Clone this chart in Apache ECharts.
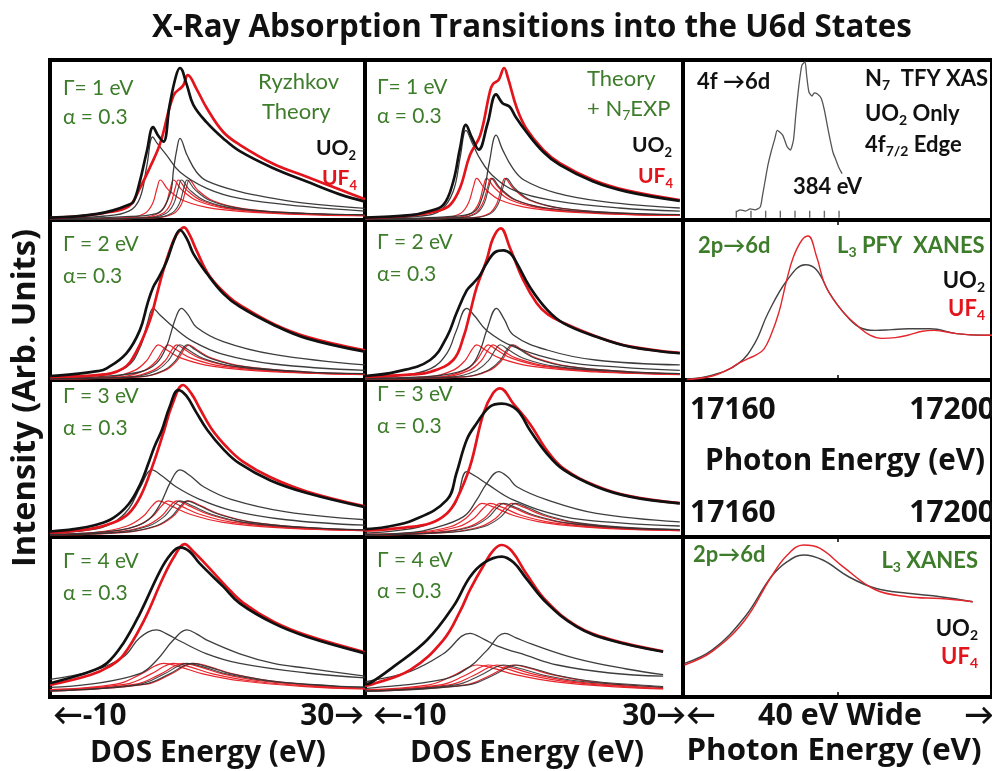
<!DOCTYPE html>
<html>
<head>
<meta charset="utf-8">
<script src="https://cdn.jsdelivr.net/npm/echarts@6/dist/echarts.min.js"></script>
<style>
  html, body { margin: 0; padding: 0; background: #fff; }
  #chart { width: 992px; height: 771px; }
</style>
</head>
<body>
<div id="chart"></div>
<script>
// ---------- Theory panels: [DOS energy (eV), intensity] ----------
// Gamma = 1 eV, Ryzhkov theory
const p11_uo2 = [[-10,1.5],[-7,2.1],[-4,3.8],[-2,6],[0,9.5],[0.6,11.4],[1.4,24],[2.3,43],[3.1,58],[3.7,53],[4.4,49],[5.2,72],[6,90],[6.5,95],[7.4,84],[8.2,72],[9.9,61],[12,51],[14.1,43],[18.3,32.5],[22.6,24],[26.8,16],[30,11.5]];
const p11_uf4 = [[-10,1.3],[-6,2.5],[-3,4.5],[0,8.5],[1.4,19.8],[2.7,33],[4,48],[5.7,78],[6.9,84],[7.5,90.6],[8.6,82],[9.9,70],[12,55],[14.1,47],[18.4,35],[22.6,27],[26.8,19],[30,13]];
const p11_uo2a = [[-10,1],[-3,2.5],[0,5.5],[1.4,13.5],[2.3,34],[3.04,52],[3.6,48],[4.8,40.6],[6.5,30],[9.9,19.8],[14.1,13.5],[22.6,8.3],[30,5.6]];
const p11_uo2b = [[-10,0.5],[-1,2],[3.5,4],[5.2,15.6],[5.7,32],[6.1,44],[6.5,51],[7.4,40.6],[8.6,30],[9.9,24.5],[14.1,17.7],[18.4,13.5],[22.6,10.4],[30,7.3]];
const p11_uf4Parts = [
  [[-10,0.5],[0,1.5],[2,4],[3,10],[3.6,20],[4,25],[5,19],[7,12],[11,7],[19,4],[30,2.6]],
  [[-10,0.4],[1.7,1.5],[3.7,4],[4.7,10],[5.3,20],[5.7,25],[6.7,19],[8.7,12],[12.7,7],[20.7,4],[30,2.8]],
  [[-10,0.4],[2.3,1.5],[4.3,4],[5.3,10],[5.9,20],[6.3,25],[7.3,19],[9.3,12],[13.3,7],[21.3,4],[30,2.9]],
  [[-10,0.3],[3.7,1.5],[5.7,4],[6.7,10],[7.3,20],[7.7,25],[8.7,19],[10.7,12],[14.7,7],[22.7,4],[30,3]]
];
const p11_uo2Parts = [
  [[-10,0.3],[2.7,1.5],[4.7,4],[5.7,10],[6.3,20],[6.7,25],[7.7,19],[9.7,12],[13.7,7],[21.7,4.2],[30,3.2]],
  [[-10,0.3],[3.4,1.5],[5.4,4],[6.4,10],[7,20],[7.4,25],[8.4,19],[10.4,12],[14.4,7],[22.4,4.2],[30,3.3]]
];

// Gamma = 1 eV, theory + N7 experiment
const p12_uo2 = [[-10,1.5],[-4.3,3],[-2,5.5],[-0.15,9.4],[1.1,24],[1.95,44.8],[2.7,59.4],[3.4,52],[4.3,44],[5.4,60],[6.5,78.5],[7.3,73],[8.2,70.8],[9,64],[10.3,55],[12.4,42.7],[14.5,34.4],[18.7,24],[22.9,17.7],[29.6,11.9]];
const p12_uf4 = [[-10,1.2],[-5,2.5],[-1,5.5],[0.7,9.4],[1.95,20],[3.2,40.6],[4.5,53],[5.7,80],[6.1,85],[6.8,87.5],[7.5,95],[8,88.5],[9.1,69.8],[10.3,57],[12.4,44],[14.5,35.5],[18.7,25],[22.9,18.5],[29.6,12.5]];
const p12_uo2a = [[-10,1],[-3,2.5],[-0.5,6],[1.1,18],[2,40],[2.7,56],[3.5,48],[4.5,38],[6,28],[9,18],[14,12],[22,7.5],[29.6,5.5]];
const p12_uo2b = [[-10,0.5],[0,2],[3.5,4.5],[4.8,15],[5.6,35],[6.5,53],[7.3,44],[8.5,33],[10,25],[14,17],[20,11.5],[29.6,7.5]];
const p12_uf4Parts = [
  [[-10,0.5],[0,1.5],[2,4],[3,10.5],[3.65,21],[4.05,26],[5,20],[7,12.5],[11,7.3],[19,4.2],[29.6,2.8]],
  [[-10,0.4],[1.3,1.5],[3.3,4],[4.3,10.5],[4.9,21],[5.3,26],[6.3,20],[8.3,12.5],[12.3,7.3],[20.3,4.2],[29.6,2.9]],
  [[-10,0.4],[1.8,1.5],[3.8,4],[4.8,10.5],[5.45,21],[5.85,26],[6.85,20],[8.85,12.5],[12.85,7.3],[20.85,4.2],[29.6,3]],
  [[-10,0.3],[3.6,1.5],[5.6,4],[6.6,10.5],[7.2,21],[7.6,26],[8.6,20],[10.6,12.5],[14.6,7.3],[22.6,4.2],[29.6,3.2]]
];
const p12_uo2Parts = [
  [[-10,0.4],[2,1.5],[4,4],[5,10.5],[5.6,21],[6,26],[7,20],[9,12.5],[13,7.3],[21,4.4],[29.6,3.3]],
  [[-10,0.3],[3.8,1.5],[5.8,4],[6.8,10.5],[7.4,21],[7.8,26],[8.8,20],[10.8,12.5],[14.8,7.3],[22.8,4.4],[29.6,3.4]]
];

// Gamma = 2 eV, Ryzhkov theory
const p21_uo2 = [[-10,2.5],[-7,3.7],[-4,5.5],[-2.8,7.3],[-0.3,16.7],[1.4,31],[2.4,48],[3.1,58],[3.8,64],[4.8,74],[5.8,88],[6.5,93.75],[7.4,88],[8.2,79],[9.9,66.7],[12,54],[14.1,45.8],[18.4,34.4],[22.6,26],[30,17.7]];
const p21_uf4 = [[-10,2],[-4,3],[-0.7,7.3],[1,18],[2.7,37.5],[3.5,52],[4.4,68.75],[5.7,87.5],[6.4,93],[7,95.4],[7.7,91],[8.6,81],[10.3,64.6],[12.7,52],[14.1,46.9],[18.4,35],[22.6,27],[30,18.5]];
const p21_uo2a = [[-10,1.5],[-4,3],[-0.3,8],[1.4,20],[2.4,36],[3.1,44.8],[3.9,41],[5.7,33],[8.2,24],[12,16],[18.4,10],[30,6]];
const p21_uo2b = [[-10,1],[-4,2],[1.4,5],[3.5,10.4],[4.8,21],[5.9,38],[6.7,44.8],[7.5,41],[8.6,33],[12,24],[18.4,16],[30,9.4]];
const p21_uf4Parts = [
  [[-10,1],[-2.25,2],[0.75,6],[2.25,12],[3.15,19],[3.75,22],[4.75,19],[6.75,13.5],[10.75,8.5],[18.75,5],[30,3.4]],
  [[-10,0.9],[-1,2],[2,6],[3.5,12],[4.4,19],[5,22],[6,19],[8,13.5],[12,8.5],[20,5],[30,3.5]],
  [[-10,0.8],[0.1,2],[3.1,6],[4.6,12],[5.5,19],[6.1,22],[7.1,19],[9.1,13.5],[13.1,8.5],[21.1,5],[30,3.6]],
  [[-10,0.7],[1.6,2],[4.6,6],[6.1,12],[7,19],[7.6,22],[8.6,19],[10.6,13.5],[14.6,8.5],[22.6,5],[30,3.8]]
];
const p21_uo2Parts = [
  [[-10,0.8],[0.5,2],[3.5,6],[5,12],[5.9,19],[6.5,22],[7.5,19],[9.5,13.5],[13.5,8.5],[21.5,5.2],[30,3.9]],
  [[-10,0.7],[1.4,2],[4.4,6],[5.9,12],[6.8,19],[7.4,22],[8.4,19],[10.4,13.5],[14.4,8.5],[22.4,5.2],[30,4]]
];

// Gamma = 2 eV, theory + N7 experiment
const p22_uo2 = [[-10,2.5],[-6,5.2],[-1.8,12.5],[0.3,27],[1.5,41.7],[2.8,56],[3.6,60.4],[4.4,65],[5.3,73],[6.4,80],[7.4,81],[8.3,79],[9.1,73],[10.75,58],[12.9,44],[15,35.4],[19.1,27],[23.3,20.8],[29.6,16.7]];
const p22_uf4 = [[-10,2],[-4,3.5],[-1.8,5],[1.1,12.5],[2.4,27],[3.2,41.7],[4.05,58],[5.3,75],[6.1,88.5],[7.07,94.8],[8.2,83],[9.9,62.5],[11.6,48],[13,41],[15,35.6],[19.1,27.2],[23.3,21],[29.6,16.9]];
const p22_uo2a = [[-10,1.5],[-6,2.5],[-1.8,7],[0.3,16.7],[1.5,31],[2.8,44.8],[3.8,40],[5.3,31],[8.7,20.8],[15,11.5],[22,8],[29.6,6]];
const p22_uo2b = [[-10,1],[-3,2],[0.3,3.5],[3.2,8.3],[4.5,18.75],[5.3,31],[6.56,44.8],[7.5,38],[8.7,28],[12.9,18.75],[19,12.5],[29.6,9.4]];
const p22_uf4Parts = [
  [[-10,1],[-1.95,2],[1.05,6],[2.55,12],[3.45,19],[4.05,22],[5.05,19],[7.05,13.5],[11.05,8.5],[19.05,5],[29.6,3.4]],
  [[-10,0.9],[-0.5,2],[2.5,6],[4,12],[4.9,19],[5.5,22],[6.5,19],[8.5,13.5],[12.5,8.5],[20.5,5],[29.6,3.5]],
  [[-10,0.8],[0.1,2],[3.1,6],[4.6,12],[5.5,19],[6.1,22],[7.1,19],[9.1,13.5],[13.1,8.5],[21.1,5],[29.6,3.6]],
  [[-10,0.6],[2.65,2],[5.65,6],[7.15,12],[8.05,19],[8.65,22],[9.65,19],[11.65,13.5],[15.65,8.5],[23.65,5],[29.6,3.9]]
];
const p22_uo2Parts = [
  [[-10,0.7],[1,2],[4,6],[5.5,12],[6.4,19],[7,22],[8,19],[10,13.5],[14,8.5],[22,5.2],[29.6,4]],
  [[-10,0.6],[2.45,2],[5.45,6],[6.95,12],[7.85,19],[8.45,22],[9.45,19],[11.45,13.5],[15.45,8.5],[23.45,5.2],[29.6,4.1]]
];

// Gamma = 3 eV, Ryzhkov theory
const p31_uo2 = [[-10,3.5],[-7,5],[-4,8],[-2,12],[0,21],[1.5,34],[2.5,47],[3.3,58],[4.2,68],[5.2,83],[6.3,93.6],[7.3,90],[8.5,80],[10,68],[12,56],[14,47],[18,36],[22.6,28],[30,19]];
const p31_uf4 = [[-10,3],[-5,5],[-2,9],[0,15],[1.5,26],[3,45],[4.5,68],[5.5,84],[6.9,96.8],[8,91],[9,82],[10.5,69],[12.5,57],[14.5,48],[18,38],[22.6,29],[30,19.5]];
const p31_uo2a = [[-10,2.5],[-5,4.5],[-2,9],[0,18],[1.5,32],[2.95,42.7],[4.2,39],[6,32],[9,24],[13,17],[20,11],[30,7.5]];
const p31_uo2b = [[-10,1.5],[-4,3],[0,5.5],[2.5,11],[4,21],[5.3,35],[6.5,42.7],[7.8,39],[9.5,32],[13,24],[20,16],[30,11]];
const p31_uf4Parts = [
  [[-10,2],[-4.2,3],[-0.2,7],[1.8,13],[3,20],[3.8,23],[5.3,20],[7.8,14.5],[11.8,9.5],[18.8,6],[30,4]],
  [[-10,1.8],[-3,3],[1,7],[3,13],[4.2,20],[5,23],[6.5,20],[9,14.5],[13,9.5],[20,6],[30,4.1]],
  [[-10,1.6],[-1.9,3],[2.1,7],[4.1,13],[5.3,20],[6.1,23],[7.6,20],[10.1,14.5],[14.1,9.5],[21.1,6],[30,4.2]],
  [[-10,1.4],[-0.4,3],[3.6,7],[5.6,13],[6.8,20],[7.6,23],[9.1,20],[11.6,14.5],[15.6,9.5],[22.6,6],[30,4.4]]
];
const p31_uo2Parts = [
  [[-10,1.5],[-1.5,3],[2.5,7],[4.5,13],[5.7,20],[6.5,23],[8,20],[10.5,14.5],[14.5,9.5],[21.5,6.2],[30,4.5]],
  [[-10,1.4],[-0.6,3],[3.4,7],[5.4,13],[6.6,20],[7.4,23],[8.9,20],[11.4,14.5],[15.4,9.5],[22.4,6.2],[30,4.6]]
];

// Gamma = 3 eV, theory + N7 experiment
const p32_uo2 = [[-10,5],[-7.4,6.4],[-3.9,10.8],[0.3,23.6],[1.5,40.6],[2.8,62],[4.05,72.4],[5.7,83],[7.2,85],[9.1,81],[10.75,68],[12.9,53],[15,42.7],[19.1,32],[23.3,25.7],[29.6,21.4]];
const p32_uf4 = [[-10,4],[-5,6],[-1.8,8.7],[0.3,15],[1.5,23.6],[3.2,44.8],[4.9,78.8],[6.1,91.5],[7,94.7],[8.65,85],[10.75,72],[12.9,55],[15,43.5],[19.1,32.5],[23.3,26],[29.6,21.6]];
const p32_uo2a = [[-10,2.5],[-6,4],[-1.8,8.7],[1.2,20],[2.8,41.6],[3.8,39],[5.3,34],[8.65,23.6],[15,13],[22,9],[29.6,7]];
const p32_uo2b = [[-10,1.5],[-4,3],[-1.8,5],[2.4,13],[4.05,23.6],[5.3,34],[6.8,41.6],[8,38],[9.1,32],[12.9,23.6],[19.1,15],[29.6,9.6]];
const p32_uf4Parts = [
  [[-10,1.8],[-3.3,3],[0.7,6.5],[2.7,12],[3.9,18.5],[4.7,21.4],[6.2,19],[8.7,13.7],[12.7,9],[19.7,5.6],[29.6,4]],
  [[-10,1.7],[-2.3,3],[1.7,6.5],[3.7,12],[4.9,18.5],[5.7,21.4],[7.2,19],[9.7,13.7],[13.7,9],[20.7,5.6],[29.6,4.1]],
  [[-10,1.5],[-1,3],[3,6.5],[5,12],[6.2,18.5],[7,21.4],[8.5,19],[11,13.7],[15,9],[22,5.6],[29.6,4.3]],
  [[-10,1.3],[0.45,3],[4.45,6.5],[6.45,12],[7.65,18.5],[8.45,21.4],[9.95,19],[12.45,13.7],[16.45,9],[23.45,5.6],[29.6,4.5]]
];
const p32_uo2Parts = [
  [[-10,1.4],[-0.6,3],[3.4,6.5],[5.4,12],[6.6,18.5],[7.4,21.4],[8.9,19],[11.4,13.7],[15.4,9],[22.4,5.8],[29.6,4.6]],
  [[-10,1.2],[0.9,3],[4.9,6.5],[6.9,12],[8.1,18.5],[8.9,21.4],[10.4,19],[12.9,13.7],[16.9,9],[23.9,5.8],[29.6,4.8]]
];

// Gamma = 4 eV, Ryzhkov theory
const p41_uo2 = [[-10,8.6],[-7,12.7],[-4.9,16],[-2.8,21],[-0.7,33.5],[1.4,52],[4,79],[5.3,89],[6.5,93.5],[7.7,91],[9,83.5],[12,69],[14.1,58.5],[18.4,46],[22.6,37.7],[30,27.3]];
const p41_uf4 = [[-10,7.5],[-4.9,13.75],[-2.5,19],[-0.7,26],[1.85,47],[4.4,75],[5.8,88],[7.1,95.6],[8.2,91],[9.5,84.5],[12.4,69],[14.5,59],[18.4,47],[22.6,38.5],[30,28]];
const p41_uo2a = [[-10,11],[-4.9,16],[-0.7,25],[1.4,37],[3.55,41.9],[5,39],[6.5,35],[9.9,27],[14.1,21],[22.6,15],[30,12]];
const p41_uo2b = [[-10,6],[-4.9,8],[1.4,14.6],[3.55,23],[5.66,35.6],[7.36,41.9],[8.6,39.5],[9.9,35.6],[14.1,27],[18.4,21],[22.6,18],[30,13]];
const p41_uf4Parts = [
  [[-10,4.6],[-1.6,8],[1.4,14],[3.4,19.5],[4.4,21],[6.4,19],[9.4,14.5],[14.4,10],[22.4,6.5],[30,5]],
  [[-10,4.3],[-0.34,8],[2.66,14],[4.66,19.5],[5.66,21],[7.66,19],[10.66,14.5],[15.66,10],[23.66,6.5],[30,5.2]],
  [[-10,4],[0.9,8],[3.9,14],[5.9,19.5],[6.9,21],[8.9,19],[11.9,14.5],[16.9,10],[24.9,6.5],[30,5.4]],
  [[-10,3.7],[2.2,8],[5.2,14],[7.2,19.5],[8.2,21],[10.2,19],[13.2,14.5],[18.2,10],[26.2,6.5],[30,5.6]]
];
const p41_uo2Parts = [
  [[-10,3.9],[1.36,8],[4.36,14],[6.36,19.5],[7.36,21],[9.36,19],[12.36,14.5],[17.36,10.2],[25.36,7],[30,6]],
  [[-10,3.7],[2,8],[5,14],[7,19.5],[8,21],[10,19],[13,14.5],[18,10.2],[26,7],[30,6.2]]
];

// Gamma = 4 eV, theory + N7 experiment
const p42_uo2 = [[-10,8],[-9.4,8.6],[-6.4,19],[-2.2,35.6],[1.1,56.5],[3.2,75],[5,84],[7.2,87.7],[8.7,84],[10.3,74],[12.9,58.5],[16.6,44],[20.8,35.6],[27.5,28.3]];
const p42_uf4 = [[-10,7],[-9.4,7.5],[-4.3,17],[-0.15,35.6],[2,54],[3.2,67],[5,83],[6.2,92],[7.2,95],[8.5,91],[10.3,77],[12.9,59.5],[16.6,44.5],[20.8,36],[27.5,28.6]];
const p42_uo2a = [[-10,9.5],[-9.4,10],[-4.3,16],[-0.15,27],[3.2,39.8],[5,36],[6.6,32],[10.3,26],[14.2,20],[20.8,15],[27.5,13]];
const p42_uo2b = [[-10,5],[-9.4,5.5],[-0.15,11],[3.2,19],[5.3,29],[7.6,39.8],[9,37],[11,33],[16.6,24],[22.9,17.5],[27.5,14]];
const p42_uf4Parts = [
  [[-10,4.5],[-1.95,7.6],[1.05,13.3],[3.05,18.6],[4.05,20],[6.05,18],[9.05,13.8],[14.05,9.5],[22.05,6.2],[27.5,5]],
  [[-10,4.2],[-0.5,7.6],[2.5,13.3],[4.5,18.6],[5.5,20],[7.5,18],[10.5,13.8],[15.5,9.5],[23.5,6.2],[27.5,5.2]],
  [[-10,4],[0.6,7.6],[3.6,13.3],[5.6,18.6],[6.6,20],[8.6,18],[11.6,13.8],[16.6,9.5],[24.6,6.2],[27.5,5.4]],
  [[-10,3.6],[2.65,7.6],[5.65,13.3],[7.65,18.6],[8.65,20],[10.65,18],[13.65,13.8],[18.65,9.5],[26.65,6.2],[27.5,6]]
];
const p42_uo2Parts = [
  [[-10,3.8],[1.4,7.6],[4.4,13.3],[6.4,18.6],[7.4,20],[9.4,18],[12.4,13.8],[17.4,9.7],[25.4,6.7],[27.5,6.2]],
  [[-10,3.5],[3,7.6],[6,13.3],[8,18.6],[9,20],[11,18],[14,13.8],[19,9.7],[27,6.7],[27.5,6.6]]
];

// ---------- Experimental spectra ----------
// N7 TFY XAS, UO2 only: [photon energy (eV), intensity]
const n7_uo2 = [[376.9,5],[377.4,6.3],[378.1,5.6],[378.7,6.9],[379.3,6.3],[380,8.1],[380.3,15.6],[380.6,23.75],[381,34.4],[381.4,42.5],[381.9,51],[382.2,56],[382.9,53],[383.5,45.6],[383.9,43.75],[384.3,50],[384.6,65.6],[385,84],[385.4,96.9],[385.8,98.75],[386,90.6],[386.3,80],[386.7,77.5],[387,79.4],[387.4,78.75],[387.9,76],[388.3,68.75],[388.8,56],[389.4,42.5],[389.8,37.5],[390.2,32.5],[390.6,29]];
const n7_ticks = [376.9,378.8,380.7,382.6,384.5,386.4,388.3,390.2];

// L3 PFY XANES
const pfy_uo2 = [[17160.5,0.5],[17163.8,3],[17167.2,10.4],[17169.3,23],[17171,41.7],[17173.5,62.5],[17175.8,72],[17177.3,68.75],[17179,54],[17180.7,42.7],[17182.8,33],[17184.9,31],[17187,31.5],[17189.1,32],[17192,32],[17195.4,29],[17198.9,28],[17200,28]];
const pfy_uf4 = [[17160.5,0.3],[17163.8,2.5],[17166,7],[17167.2,10.5],[17168.5,13.5],[17169.6,16],[17170.5,19.5],[17171.3,27],[17172.4,42],[17173.4,62],[17174.3,77],[17175.4,87.5],[17176.2,90],[17177.3,77],[17178.5,58.3],[17180.7,42.7],[17182.8,33],[17184.2,28],[17185.7,26],[17187.5,26.5],[17189.1,28],[17191,30.5],[17192.5,31],[17195.4,29],[17198.9,28],[17200,28]];

// L3 XANES
const xanes_uo2 = [[17160.2,21],[17163.8,29.4],[17168,50],[17171.4,75],[17173.5,84.6],[17175.6,88.75],[17178.1,85.6],[17181.5,75],[17184.9,68],[17189.1,64.8],[17193.3,62.7],[17197.5,59.6]];
const xanes_uf4 = [[17160.2,20],[17163.8,28.5],[17168,48],[17171.4,75],[17173.5,88.75],[17175.6,95],[17177.7,93],[17180.7,81.5],[17184.9,67],[17189.1,62.7],[17193.3,61.5],[17197.5,59.6]];

// ---------- Layout ----------
const colBoxes = [{ left: 50, width: 315 }, { left: 365, width: 318 }, { left: 683, width: 317 }];
const rowBoxes = [{ top: 60, height: 160 }, { top: 220, height: 160 }, { top: 380, height: 157 }, { top: 537, height: 160 }];

const FONT = 'Lato, "Open Sans", "DejaVu Sans", sans-serif';
const HEAD_FONT = '"Open Sans", Lato, "DejaVu Sans", sans-serif';
const GREEN = '#3d7c2a';
const RED = '#e3141b';
const INK = '#111111';

const grids = [], xAxes = [], yAxes = [];
rowBoxes.forEach((r, ri) => {
  colBoxes.forEach((c, ci) => {
    const gi = ri * 3 + ci;
    grids.push({ left: c.left, top: r.top, width: c.width, height: r.height,
      show: true, borderColor: '#000', borderWidth: 4, backgroundColor: '#fff' });
    let min = -10, max = 30;
    if (ci === 2) {
      if (ri === 0) { min = 370; max = 410; }
      else if (ri === 2) { min = 0; max = 1; }
      else { min = 17160; max = 17200; }
    }
    const withTicks = ci === 2 && (ri === 1 || ri === 3);
    xAxes.push({ gridIndex: gi, type: 'value', min, max, interval: withTicks ? 20 : undefined,
      show: withTicks, position: 'bottom',
      axisLine: { show: false }, axisLabel: { show: false }, splitLine: { show: false },
      axisTick: { show: withTicks, inside: true, length: 5, lineStyle: { color: '#000', width: 1.5 } } });
    yAxes.push({ gridIndex: gi, type: 'value', min: 0, max: 100, show: false, splitLine: { show: false } });
  });
});
// top-edge ticks for the two photon-energy panels
[5, 11].forEach(gi => {
  xAxes.push({ gridIndex: gi, type: 'value', min: 17160, max: 17200, interval: 20, position: 'top',
    axisLine: { show: false }, axisLabel: { show: false }, splitLine: { show: false },
    axisTick: { show: true, inside: true, length: 5, lineStyle: { color: '#000', width: 1.5 } } });
});

function curve(gi, data, color, width, opacity, z) {
  return { type: 'line', xAxisIndex: gi, yAxisIndex: gi, data, symbol: 'none', showSymbol: false,
    smooth: 0.4, silent: true, clip: true, z: z,
    lineStyle: { color, width, opacity } };
}

const theoryPanels = [
  { gi: 0, uo2: p11_uo2, uf4: p11_uf4, big: [p11_uo2a, p11_uo2b], redParts: p11_uf4Parts, blackParts: p11_uo2Parts },
  { gi: 1, uo2: p12_uo2, uf4: p12_uf4, big: [p12_uo2a, p12_uo2b], redParts: p12_uf4Parts, blackParts: p12_uo2Parts },
  { gi: 3, uo2: p21_uo2, uf4: p21_uf4, big: [p21_uo2a, p21_uo2b], redParts: p21_uf4Parts, blackParts: p21_uo2Parts },
  { gi: 4, uo2: p22_uo2, uf4: p22_uf4, big: [p22_uo2a, p22_uo2b], redParts: p22_uf4Parts, blackParts: p22_uo2Parts },
  { gi: 6, uo2: p31_uo2, uf4: p31_uf4, big: [p31_uo2a, p31_uo2b], redParts: p31_uf4Parts, blackParts: p31_uo2Parts },
  { gi: 7, uo2: p32_uo2, uf4: p32_uf4, big: [p32_uo2a, p32_uo2b], redParts: p32_uf4Parts, blackParts: p32_uo2Parts },
  { gi: 9, uo2: p41_uo2, uf4: p41_uf4, big: [p41_uo2a, p41_uo2b], redParts: p41_uf4Parts, blackParts: p41_uo2Parts },
  { gi: 10, uo2: p42_uo2, uf4: p42_uf4, big: [p42_uo2a, p42_uo2b], redParts: p42_uf4Parts, blackParts: p42_uo2Parts }
];

const series = [];
theoryPanels.forEach(p => {
  p.redParts.forEach(d => series.push(curve(p.gi, d, '#e8262c', 1.2, 1, 3)));
  p.blackParts.forEach(d => series.push(curve(p.gi, d, '#333', 1.1, 0.9, 3)));
  p.big.forEach(d => series.push(curve(p.gi, d, '#333', 1.3, 0.95, 4)));
  series.push(curve(p.gi, p.uf4, RED, 2.7, 1, 5));
  series.push(curve(p.gi, p.uo2, INK, 2.7, 1, 6));
});
series.push(Object.assign(curve(2, n7_uo2, '#555', 1.3, 1, 5), { smooth: 0.2 }));
series.push({ type: 'scatter', xAxisIndex: 2, yAxisIndex: 2, silent: true, z: 4,
  data: n7_ticks.map(e => [e, 3.6]), symbol: 'rect', symbolSize: [1.4, 7], itemStyle: { color: '#444' } });
series.push(curve(5, pfy_uo2, '#444', 1.4, 1, 5));
series.push(curve(5, pfy_uf4, '#e3262c', 1.4, 1, 6));
series.push(curve(11, xanes_uo2, '#444', 1.5, 1, 5));
series.push(curve(11, xanes_uf4, '#e3262c', 1.5, 1, 6));

// ---------- Text ----------
const measureCtx = document.createElement('canvas').getContext('2d');
function fitSize(text, family, target) {
  measureCtx.font = `bold 100px ${family}`;
  return 100 * target / measureCtx.measureText(text).width;
}
function rich(size, color, weight, family) {
  return {
    n: { fontSize: size, fontFamily: family, fontWeight: weight, fill: color, lineHeight: size + 3, verticalAlign: 'top' },
    s: { fontSize: Math.round(size * 0.62), fontFamily: family, fontWeight: weight, fill: color, lineHeight: Math.round(size * 0.45), verticalAlign: 'bottom' }
  };
}
function label(x, y, text, size, color, weight, align, rotation, family) {
  const fam = family || FONT;
  return { type: 'text', x, y, rotation: rotation || 0, z: 50, silent: true,
    style: { text, rich: rich(size, color, weight, fam), fill: color,
      font: `${weight} ${size}px ${fam}`,
      align: align || 'left', verticalAlign: 'middle',
      textAlign: align || 'left', textVerticalAlign: 'middle' } };
}
// bold heading text sized to span a given width
function heading(x, y, plain, width, align, rotation) {
  const size = fitSize(plain, HEAD_FONT, width);
  return label(x, y, '{n|' + plain + '}', size, '#111', 'bold', align, rotation, HEAD_FONT);
}

const TS = 21;   // panel annotation size
const captionSize = fitSize('DOS Energy (eV)', HEAD_FONT, 236);
const graphics = [
  heading(532, 30, 'X-Ray Absorption Transitions into the U6d States', 760, 'center'),
  heading(27, 398, 'Intensity (Arb. Units)', 338, 'center', Math.PI / 2),

  // Gamma = 1 eV
  label(63, 90, '{n|Γ= 1 eV}', TS, GREEN, 'normal'),
  label(63, 119, '{n|α = 0.3}', TS, GREEN, 'normal'),
  label(258, 83, '{n|Ryzhkov}', 22, GREEN, 'normal'),
  label(262, 113, '{n|Theory}', 22, GREEN, 'normal'),
  label(356, 150, '{n|UO}{s|2}', TS, '#111', 'bold', 'right'),
  label(357, 180, '{n|UF}{s|4}', TS, RED, 'bold', 'right'),
  label(377, 89, '{n|Γ= 1 eV}', TS, GREEN, 'normal'),
  label(377, 118, '{n|α = 0.3}', TS, GREEN, 'normal'),
  label(587, 80, '{n|Theory}', 22, GREEN, 'normal'),
  label(587, 110, '{n|+ N}{s|7}{n|EXP}', 22, GREEN, 'normal'),
  label(672, 147, '{n|UO}{s|2}', TS, '#111', 'bold', 'right'),
  label(673, 178, '{n|UF}{s|4}', TS, RED, 'bold', 'right'),

  // Gamma = 2..4 eV
  label(63, 246, '{n|Γ = 2 eV}', TS, GREEN, 'normal'),
  label(63, 278, '{n|α= 0.3}', TS, GREEN, 'normal'),
  label(377, 244, '{n|Γ = 2 eV}', TS, GREEN, 'normal'),
  label(377, 276, '{n|α= 0.3}', TS, GREEN, 'normal'),
  label(63, 398, '{n|Γ = 3 eV}', TS, GREEN, 'normal'),
  label(63, 430, '{n|α = 0.3}', TS, GREEN, 'normal'),
  label(377, 396, '{n|Γ = 3 eV}', TS, GREEN, 'normal'),
  label(377, 428, '{n|α = 0.3}', TS, GREEN, 'normal'),
  label(63, 563, '{n|Γ = 4 eV}', TS, GREEN, 'normal'),
  label(63, 595, '{n|α = 0.3}', TS, GREEN, 'normal'),
  label(377, 562, '{n|Γ = 4 eV}', TS, GREEN, 'normal'),
  label(377, 593, '{n|α = 0.3}', TS, GREEN, 'normal'),

  // N7 panel
  label(697, 83, '{n|4f →6d}', 22, '#111', 'bold'),
  label(865, 80, '{n|N}{s|7}{n|  TFY XAS}', 22, '#111', 'bold'),
  label(865, 115, '{n|UO}{s|2}{n| Only}', 22, '#111', 'bold'),
  label(865, 146, '{n|4f}{s|7/2}{n| Edge}', 22, '#111', 'bold'),
  label(793, 188, '{n|384 eV}', 22, '#111', 'bold'),

  // L3 PFY panel
  label(698, 247, '{n|2p→6d}', 22, GREEN, 'bold'),
  label(837, 247, '{n|L}{s|3}{n| PFY  XANES}', 22, GREEN, 'bold'),
  label(985, 282, '{n|UO}{s|2}', 22, '#111', 'bold', 'right'),
  label(985, 310, '{n|UF}{s|4}', 22, RED, 'bold', 'right'),

  // photon energy scale panel
  label(690, 412, '{n|17160}', 30, '#111', 'bold', 'left', 0, HEAD_FONT),
  label(995, 412, '{n|17200}', 30, '#111', 'bold', 'right', 0, HEAD_FONT),
  heading(845, 463, 'Photon Energy (eV)', 280, 'center'),
  label(690, 515, '{n|17160}', 30, '#111', 'bold', 'left', 0, HEAD_FONT),
  label(995, 515, '{n|17200}', 30, '#111', 'bold', 'right', 0, HEAD_FONT),

  // L3 XANES panel
  label(693, 556, '{n|2p→6d}', 22, GREEN, 'bold'),
  label(978, 562, '{n|L}{s|3}{n| XANES}', 22, GREEN, 'bold', 'right'),
  label(978, 630, '{n|UO}{s|2}', 22, '#111', 'bold', 'right'),
  label(978, 658, '{n|UF}{s|4}', 22, RED, 'bold', 'right'),

  // bottom axis captions
  label(53, 718, '{n|←-10}', captionSize, '#111', 'bold', 'left', 0, HEAD_FONT),
  label(364, 718, '{n|30→}', captionSize, '#111', 'bold', 'right', 0, HEAD_FONT),
  label(373, 718, '{n|←-10}', captionSize, '#111', 'bold', 'left', 0, HEAD_FONT),
  label(686, 718, '{n|30→}', captionSize, '#111', 'bold', 'right', 0, HEAD_FONT),
  label(686, 718, '{n|←}', captionSize, '#111', 'bold', 'left', 0, HEAD_FONT),
  heading(840, 718, '40 eV Wide', 164, 'center'),
  label(994, 718, '{n|→}', captionSize, '#111', 'bold', 'right', 0, HEAD_FONT),
  heading(208, 755, 'DOS Energy (eV)', 236, 'center'),
  heading(527, 755, 'DOS Energy (eV)', 234, 'center'),
  heading(834, 753, 'Photon Energy (eV)', 295, 'center')
];

const chart = echarts.init(document.getElementById('chart'), null, { renderer: 'canvas' });
chart.setOption({
  animation: false,
  backgroundColor: '#fff',
  grid: grids,
  xAxis: xAxes,
  yAxis: yAxes,
  series,
  graphic: { elements: graphics }
});
</script>
</body>
</html>
